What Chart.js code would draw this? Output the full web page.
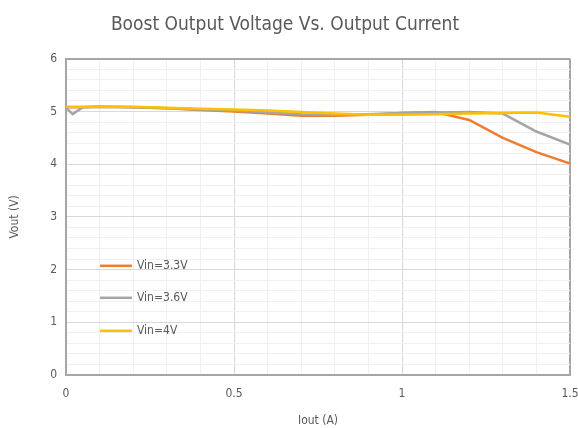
<!DOCTYPE html>
<html>
<head>
<meta charset="utf-8">
<script src="https://cdn.jsdelivr.net/npm/chart.js@4/dist/chart.umd.min.js"></script>
<style>
	html, body { margin: 0; padding: 0; background: #fff; }
	.chart-box { width: 578px; height: 428px; position: relative; }
</style>
</head>
<body>
<div class="chart-box"><canvas id="mainChart"></canvas></div>
<script>
// data
const currentA = [0, 0.02, 0.05, 0.1, 0.2, 0.3, 0.4, 0.5, 0.6, 0.7, 0.8, 0.9, 1.0, 1.1, 1.2, 1.3, 1.4, 1.5];
const vin33 = [5.08, 5.08, 5.08, 5.09, 5.08, 5.06, 5.03, 5.00, 4.96, 4.92, 4.92, 4.94, 4.97, 4.99, 4.84, 4.50, 4.23, 4.01];
const vin36 = [5.07, 4.95, 5.08, 5.09, 5.08, 5.06, 5.04, 5.02, 4.98, 4.95, 4.94, 4.95, 4.97, 4.98, 4.99, 4.96, 4.62, 4.37];
const vin4 = [5.09, 5.09, 5.09, 5.09, 5.09, 5.07, 5.05, 5.04, 5.02, 4.99, 4.96, 4.94, 4.94, 4.95, 4.96, 4.97, 4.98, 4.90];
const seriesNames = ['Vin=3.3V', 'Vin=3.6V', 'Vin=4V'];
const seriesColors = ['#ED7D31', '#A5A5A5', '#FFC000'];
const xLabels = [0, 0.5, 1, 1.5];
const yLabels = [0, 1, 2, 3, 4, 5, 6];

// condensed face, the original uses a narrow font
const FONT = '"DejaVu Sans", sans-serif';
const STRETCH = 'normal condensed';
const TEXT = '#595959';

function toPoints(ys) {
	return currentA.map((x, i) => ({ x: x, y: ys[i] }));
}

function isLabel(list, v) {
	return list.some(l => Math.abs(l - v) < 1e-6);
}

// legend drawn inside the plot, like the original
const innerLegend = {
	id: 'innerLegend',
	afterDraw(chart) {
		const ctx = chart.ctx;
		const area = chart.chartArea;
		const x0 = area.left + 34;
		const rows = [207, 239, 272];
		ctx.save();
		ctx.font = STRETCH + ' 12px ' + FONT;
		ctx.textBaseline = 'middle';
		chart.data.datasets.forEach((ds, i) => {
			const y = area.top + rows[i];
			ctx.strokeStyle = ds.borderColor;
			ctx.lineWidth = 2.5;
			ctx.beginPath();
			ctx.moveTo(x0, y);
			ctx.lineTo(x0 + 32, y);
			ctx.stroke();
			ctx.fillStyle = TEXT;
			ctx.fillText(ds.label, x0 + 37, y);
		});
		ctx.restore();
	}
};

document.addEventListener("DOMContentLoaded", () => {
	const ctx = document.getElementById("mainChart");

	new Chart(ctx, {
		type: 'line',
		data: {
			datasets: [vin33, vin36, vin4].map((ys, i) => ({
				label: seriesNames[i],
				data: toPoints(ys),
				borderColor: seriesColors[i],
				backgroundColor: seriesColors[i],
				borderWidth: 2.5,
				pointRadius: 0,
				tension: 0,
				order: 3 - i
			}))
		},
		options: {
			responsive: true,
			maintainAspectRatio: false,
			animation: false,
			layout: { padding: { top: 0, right: 8, bottom: 0, left: 0 } },
			plugins: {
				legend: { display: false },
				tooltip: { enabled: false },
				title: {
					display: true,
					text: 'Boost Output Voltage Vs. Output Current',
					color: TEXT,
					font: { family: FONT, size: 19, weight: STRETCH, lineHeight: 1.2 },
					padding: { top: 14, bottom: 22 }
				}
			},
			scales: {
				x: {
					type: 'linear',
					min: 0,
					max: 1.5,
					afterFit: scale => {
						scale.height = 53;
						scale.paddingRight = 0;
					},
					ticks: {
						stepSize: 0.1,
						autoSkip: false,
						maxRotation: 0,
						padding: 12,
						color: TEXT,
						font: { family: FONT, size: 12, weight: STRETCH },
						callback: v => isLabel(xLabels, v) ? String(Math.round(v * 10) / 10) : ''
					},
					grid: {
						drawTicks: false,
						lineWidth: c => (c.tick && Math.abs(c.tick.value - 1.5) < 1e-6) ? 2 : 1,
						color: c => {
							const v = c.tick ? c.tick.value : 0;
							if (Math.abs(v - 1.5) < 1e-6) return '#a6a6a6';
							return isLabel(xLabels, v) ? '#d9d9d9' : '#f0f0f0';
						}
					},
					border: { color: '#a6a6a6', width: 2 },
					title: {
						display: true,
						text: 'Iout (A)',
						color: TEXT,
						font: { family: FONT, size: 12, weight: STRETCH },
						padding: { top: 0, bottom: 0 }
					}
				},
				y: {
					type: 'linear',
					min: 0,
					max: 6,
					afterFit: scale => { scale.width = 66; },
					ticks: {
						stepSize: 0.2,
						autoSkip: false,
						padding: 9,
						color: TEXT,
						font: { family: FONT, size: 12, weight: STRETCH },
						callback: v => isLabel(yLabels, v) ? String(Math.round(v)) : ''
					},
					grid: {
						drawTicks: false,
						lineWidth: c => (c.tick && Math.abs(c.tick.value - 6) < 1e-6) ? 2 : 1,
						color: c => {
							const v = c.tick ? c.tick.value : 0;
							if (Math.abs(v - 6) < 1e-6) return '#a6a6a6';
							return isLabel(yLabels, v) ? '#d9d9d9' : '#f0f0f0';
						}
					},
					border: { color: '#a6a6a6', width: 2 },
					title: {
						display: true,
						text: 'Vout (V)',
						color: TEXT,
						font: { family: FONT, size: 12, weight: STRETCH },
						padding: { top: 8, bottom: 8 }
					}
				}
			}
		},
		plugins: [innerLegend]
	});
});
</script>
</body>
</html>
